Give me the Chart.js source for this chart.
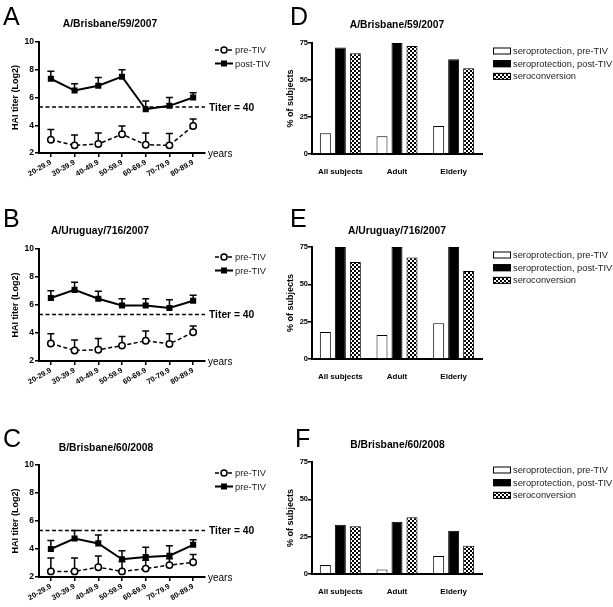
<!DOCTYPE html>
<html>
<head>
<meta charset="utf-8">
<script src="https://cdn.jsdelivr.net/npm/chart.js@4.4.0/dist/chart.umd.min.js"></script>
<style>
body { margin: 0; background: #fff; width: 613px; height: 607px; position: relative; overflow: hidden; }
canvas { position: absolute; }
</style>
</head>
<body>
<canvas id="cA" style="left:0;top:0" width="285" height="200"></canvas>
<canvas id="cD" style="left:280px;top:0" width="333" height="200"></canvas>
<canvas id="cB" style="left:0;top:200px" width="285" height="200"></canvas>
<canvas id="cE" style="left:280px;top:200px" width="333" height="200"></canvas>
<canvas id="cC" style="left:0;top:400px" width="285" height="207"></canvas>
<canvas id="cF" style="left:280px;top:400px" width="333" height="207"></canvas>
<script>
// categories
var ageGroups = ['20-29.9', '30-39.9', '40-49.9', '50-59.9', '60-69.9', '70-79.9', '80-89.9'];
var subjectGroups = ['All subjects', 'Adult', 'Elderly'];
var barNames = ['seroprotection, pre-TIV', 'seroprotection, post-TIV', 'seroconversion'];
var titer40 = 5.32; // log2(40)

// A/Brisbane/59/2007 (mean + upper error)
var aPre = [2.95, 2.55, 2.65, 3.35, 2.6, 2.55, 3.95];
var aPreTop = [3.7, 3.3, 3.45, 3.95, 3.45, 3.4, 4.45];
var aPost = [7.35, 6.5, 6.85, 7.5, 5.15, 5.4, 6.0];
var aPostTop = [7.9, 7.0, 7.45, 8.0, 5.75, 6.0, 6.35];
var aNames = ['pre-TIV', 'post-TIV'];

// A/Uruguay/716/2007
var bPre = [3.25, 2.75, 2.8, 3.1, 3.45, 3.22, 4.05];
var bPreTop = [3.95, 3.5, 3.6, 3.75, 4.15, 3.95, 4.5];
var bPost = [6.5, 7.08, 6.45, 5.97, 5.97, 5.78, 6.3];
var bPostTop = [7.02, 7.63, 6.98, 6.45, 6.45, 6.38, 6.7];
var bNames = ['pre-TIV', 'pre-TIV'];

// B/Brisbane/60/2008
var cPre = [2.4, 2.4, 2.7, 2.4, 2.6, 2.85, 3.05];
var cPreTop = [3.35, 3.35, 3.5, 3.1, 3.2, 3.3, 3.6];
var cPost = [4.0, 4.75, 4.4, 3.27, 3.43, 3.52, 4.3];
var cPostTop = [4.6, 5.32, 5.0, 3.88, 4.12, 4.23, 4.66];
var cNames = ['pre-TIV', 'pre-TIV'];

// % of subjects
var dPre = [14, 12, 19], dPost = [72, 75, 64], dConv = [68, 73, 58];
var ePre = [18, 16, 24], ePost = [75, 75, 75], eConv = [65, 68, 59];
var fPre = [6, 3, 12], fPost = [33, 35, 29], fConv = [32, 38, 19];

var FONT = '"Liberation Sans", Arial, sans-serif';

var checker = (function () {
    var c = document.createElement('canvas');
    c.width = 4; c.height = 4;
    var g = c.getContext('2d');
    g.fillStyle = '#fff'; g.fillRect(0, 0, 4, 4);
    g.fillStyle = '#000'; g.fillRect(0, 0, 2, 2); g.fillRect(2, 2, 2, 2);
    return g.createPattern(c, 'repeat');
})();

var panelPlugin = {
    id: 'panel',
    beforeDatasetsDraw: function (chart, args, o) {
        if (!o.line) return;
        var ctx = chart.ctx, a = chart.chartArea, ys = chart.scales.y;
        ctx.save();
        ctx.strokeStyle = '#000';
        ctx.lineWidth = 1.5;
        ctx.setLineDash([4, 2.5]);
        var ty = ys.getPixelForValue(titer40);
        ctx.beginPath(); ctx.moveTo(a.left, ty); ctx.lineTo(a.right, ty); ctx.stroke();
        ctx.setLineDash([]);
        chart.data.datasets.forEach(function (ds, i) {
            chart.getDatasetMeta(i).data.forEach(function (pt, j) {
                var yt = ys.getPixelForValue(ds.errTop[j]);
                ctx.beginPath();
                ctx.moveTo(pt.x, pt.y); ctx.lineTo(pt.x, yt);
                ctx.moveTo(pt.x - 3.5, yt); ctx.lineTo(pt.x + 3.5, yt);
                ctx.stroke();
            });
        });
        ctx.restore();
    },
    afterDraw: function (chart, args, o) {
        var ctx = chart.ctx, a = chart.chartArea;
        ctx.save();
        ctx.fillStyle = '#000';
        ctx.font = '25px ' + FONT;
        ctx.textBaseline = 'alphabetic';
        ctx.fillText(o.letter, o.letterX, o.letterY);
        ctx.font = 'bold 10.3px ' + FONT;
        ctx.textAlign = 'center';
        ctx.textBaseline = 'middle';
        ctx.fillText(o.title, o.titleX, o.titleY);
        ctx.textAlign = 'left';
        if (o.line) {
            var ty = chart.scales.y.getPixelForValue(titer40);
            ctx.font = 'bold 10.3px ' + FONT;
            ctx.fillText('Titer = 40', a.right + 4, ty + 1);
            ctx.font = '10px ' + FONT;
            ctx.fillText('years', a.right + 3, a.bottom + 1);
            chart.data.datasets.forEach(function (ds, i) {
                var y = a.top + 8 + i * 13.5, x0 = a.right + 10;
                ctx.strokeStyle = '#000';
                ctx.lineWidth = ds.borderWidth;
                ctx.setLineDash(ds.borderDash || []);
                ctx.beginPath(); ctx.moveTo(x0, y); ctx.lineTo(x0 + 18, y); ctx.stroke();
                ctx.setLineDash([]);
                if (ds.pointStyle === 'circle') {
                    ctx.fillStyle = '#fff'; ctx.lineWidth = 1.5;
                    ctx.beginPath(); ctx.arc(x0 + 9, y, 3, 0, Math.PI * 2); ctx.fill(); ctx.stroke();
                } else {
                    ctx.fillStyle = '#000';
                    ctx.fillRect(x0 + 6, y - 3, 6, 6);
                }
                ctx.fillStyle = '#222';
                ctx.font = '9.3px ' + FONT;
                ctx.fillText(ds.label, x0 + 20, y + 0.5);
            });
        } else {
            chart.data.datasets.forEach(function (ds, i) {
                var y = a.top + 8 + i * 12.7, x0 = a.right + 11;
                ctx.fillStyle = ds.backgroundColor;
                ctx.fillRect(x0, y - 3.5, 18, 7);
                ctx.strokeStyle = '#000'; ctx.lineWidth = 1;
                ctx.strokeRect(x0 + 0.5, y - 3, 17, 6);
                ctx.fillStyle = '#222';
                ctx.font = '9.3px ' + FONT;
                ctx.fillText(ds.label, x0 + 20, y + 0.5);
            });
        }
        ctx.restore();
    }
};

function axisStyle() {
    return {
        grid: { display: true, drawOnChartArea: false, drawTicks: true, tickLength: 4, color: '#000', lineWidth: 1.5 },
        border: { display: true, color: '#000', width: 2 }
    };
}

function lineChart(id, pre, preTop, post, postTop, names, p) {
    var xs = axisStyle(), ys = axisStyle();
    return new Chart(document.getElementById(id), {
        type: 'line',
        data: {
            labels: ageGroups,
            datasets: [
                { label: names[0], data: pre, errTop: preTop, borderColor: '#000', borderWidth: 1.5, borderDash: [4, 2.5],
                  pointStyle: 'circle', pointRadius: 3.2, pointBackgroundColor: '#fff', pointBorderColor: '#000', pointBorderWidth: 1.5, tension: 0 },
                { label: names[1], data: post, errTop: postTop, borderColor: '#000', borderWidth: 2,
                  pointStyle: 'rect', pointRadius: 4.3, pointBackgroundColor: '#000', pointBorderColor: '#000', pointBorderWidth: 0, tension: 0 }
            ]
        },
        options: {
            responsive: false,
            animation: false,
            layout: { autoPadding: false, padding: { left: 0, top: p.top, right: 80, bottom: 0 } },
            plugins: { legend: { display: false }, tooltip: { enabled: false }, panel: p },
            scales: {
                x: {
                    offset: true,
                    grid: xs.grid, border: xs.border,
                    ticks: { autoSkip: false, minRotation: 30, maxRotation: 30, padding: 1, color: '#000',
                             font: { family: FONT, size: 7.5, weight: 'bold' } },
                    afterFit: function (s) { s.height = p.xh; }
                },
                y: {
                    min: 2, max: 10,
                    grid: ys.grid, border: ys.border,
                    ticks: { stepSize: 2, padding: 1, color: '#000', font: { family: FONT, size: 8.5, weight: 'bold' } },
                    title: { display: true, text: 'HAI titer (Log2)', color: '#000', padding: { top: 10.6, bottom: 0 },
                             font: { family: FONT, size: 9, weight: 'bold' } },
                    afterFit: function (s) { s.width = 39; }
                }
            }
        },
        plugins: [panelPlugin]
    });
}

function barChart(id, pre, post, conv, p) {
    var ys = axisStyle();
    return new Chart(document.getElementById(id), {
        type: 'bar',
        data: {
            labels: subjectGroups,
            datasets: [
                { label: barNames[0], data: pre, backgroundColor: '#fff', borderColor: '#000', borderWidth: 1 },
                { label: barNames[1], data: post, backgroundColor: '#000', borderColor: '#000', borderWidth: 1 },
                { label: barNames[2], data: conv, backgroundColor: checker, borderColor: '#000', borderWidth: 1 }
            ]
        },
        options: {
            responsive: false,
            animation: false,
            categoryPercentage: 0.794,
            barPercentage: 0.733,
            layout: { autoPadding: false, padding: { left: 0, top: p.top, right: 131, bottom: 0 } },
            plugins: { legend: { display: false }, tooltip: { enabled: false }, panel: p },
            scales: {
                x: {
                    grid: { display: false },
                    border: { display: true, color: '#000', width: 2 },
                    ticks: { padding: 5, color: '#000', font: { family: FONT, size: 8, weight: 'bold' } },
                    afterFit: function (s) { s.height = p.xh; }
                },
                y: {
                    min: 0, max: 75,
                    grid: ys.grid, border: ys.border,
                    ticks: { stepSize: 25, padding: 0, color: '#000', font: { family: FONT, size: 7.5, weight: 'bold' } },
                    title: { display: true, text: '% of subjects', color: '#000', padding: { top: 5.6, bottom: 0 },
                             font: { family: FONT, size: 9, weight: 'bold' } },
                    afterFit: function (s) { s.width = 32; }
                }
            }
        },
        plugins: [panelPlugin]
    });
}

lineChart('cA', aPre, aPreTop, aPost, aPostTop, aNames,
    { line: true, top: 42, xh: 47, letter: 'A', letterX: 3, letterY: 25, title: 'A/Brisbane/59/2007', titleX: 110, titleY: 24 });
lineChart('cB', bPre, bPreTop, bPost, bPostTop, bNames,
    { line: true, top: 49, xh: 39, letter: 'B', letterX: 3, letterY: 27, title: 'A/Uruguay/716/2007', titleX: 100, titleY: 31 });
lineChart('cC', cPre, cPreTop, cPost, cPostTop, cNames,
    { line: true, top: 65, xh: 30, letter: 'C', letterX: 3, letterY: 47, title: 'B/Brisbane/60/2008', titleX: 106, titleY: 48 });

barChart('cD', dPre, dPost, dConv,
    { line: false, top: 43, xh: 46, letter: 'D', letterX: 10, letterY: 25, title: 'A/Brisbane/59/2007', titleX: 117, titleY: 25 });
barChart('cE', ePre, ePost, eConv,
    { line: false, top: 47, xh: 41, letter: 'E', letterX: 10, letterY: 27, title: 'A/Uruguay/716/2007', titleX: 117, titleY: 31 });
barChart('cF', fPre, fPost, fConv,
    { line: false, top: 62, xh: 33, letter: 'F', letterX: 15, letterY: 47, title: 'B/Brisbane/60/2008', titleX: 117.5, titleY: 45 });
</script>
</body>
</html>
